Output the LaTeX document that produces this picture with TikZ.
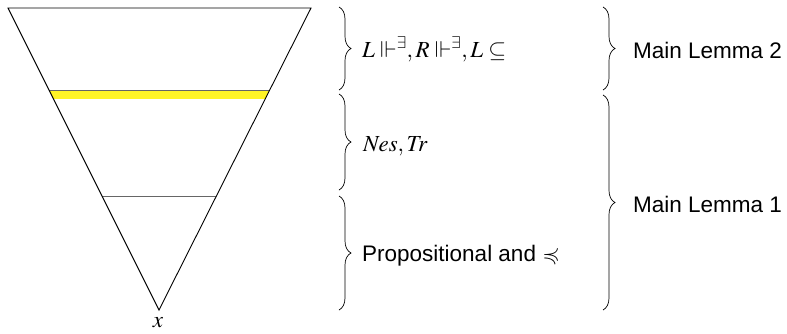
\documentclass[tikz,border=0pt]{standalone}
\usepackage{mathptmx}
\usepackage{amssymb}
\usepackage[no-math]{fontspec}
\setsansfont{Liberation Sans}
\usetikzlibrary{decorations.pathreplacing}
\begin{document}
\begin{tikzpicture}[x=1pt,y=-1pt,
  bracestyle/.style={decorate, decoration={brace, amplitude=12pt}, line width=0.7pt},
  mathlab/.style={anchor=base west, inner sep=0pt, font=\fontsize{23}{27}\selectfont},
  sanslab/.style={anchor=base west, inner sep=0pt, font=\fontsize{22.5}{26}\selectfont\sffamily},
  edge/.style={line width=0.9pt, black},
  level/.style={line width=1pt, black!60}]
\useasboundingbox (0,0) rectangle (787,333);
% triangle
\coordinate (tl) at (8,8);
\coordinate (tr) at (311,8);
\coordinate (ap) at (159,310);
\begin{scope}
  \clip (tl) -- (tr) -- (ap) -- cycle;
  \fill[yellow!85!white] (0,90) rectangle (330,99);
  \draw[level] (0,90.5) -- (330,90.5);
  \draw[level] (0,196) -- (330,196);
\end{scope}
\draw[edge, line join=miter] (tl) -- (tr) -- (ap) -- cycle;
\node[anchor=base, inner sep=0pt, font=\fontsize{23}{27}\selectfont] (xlab) at (158,327) {$x$};
% first column braces
\coordinate (a1) at (339,7);   \coordinate (a2) at (339,90);
\coordinate (b1) at (339,94);  \coordinate (b2) at (339,190);
\coordinate (c1) at (339,196); \coordinate (c2) at (339,310);
\draw[bracestyle] (a1) -- (a2);
\draw[bracestyle] (b1) -- (b2);
\draw[bracestyle] (c1) -- (c2);
\node[mathlab] (t1) at (362,57) {$L\Vdash^{\exists}, R\Vdash^{\exists}, L\subseteq$};
\node[mathlab] (t2) at (363,151) {$\mathit{Nes}, \mathit{Tr}$};
\node[sanslab] (t3) at (362,261) {Propositional and $\preccurlyeq$};
% second column braces
\coordinate (d1) at (603,7);  \coordinate (d2) at (603,90);
\coordinate (e1) at (603,95); \coordinate (e2) at (603,310);
\draw[bracestyle] (d1) -- (d2);
\draw[bracestyle] (e1) -- (e2);
\node[sanslab] (m2) at (633,58) {Main Lemma 2};
\node[sanslab] (m1) at (633,212) {Main Lemma 1};
\end{tikzpicture}
\end{document}
